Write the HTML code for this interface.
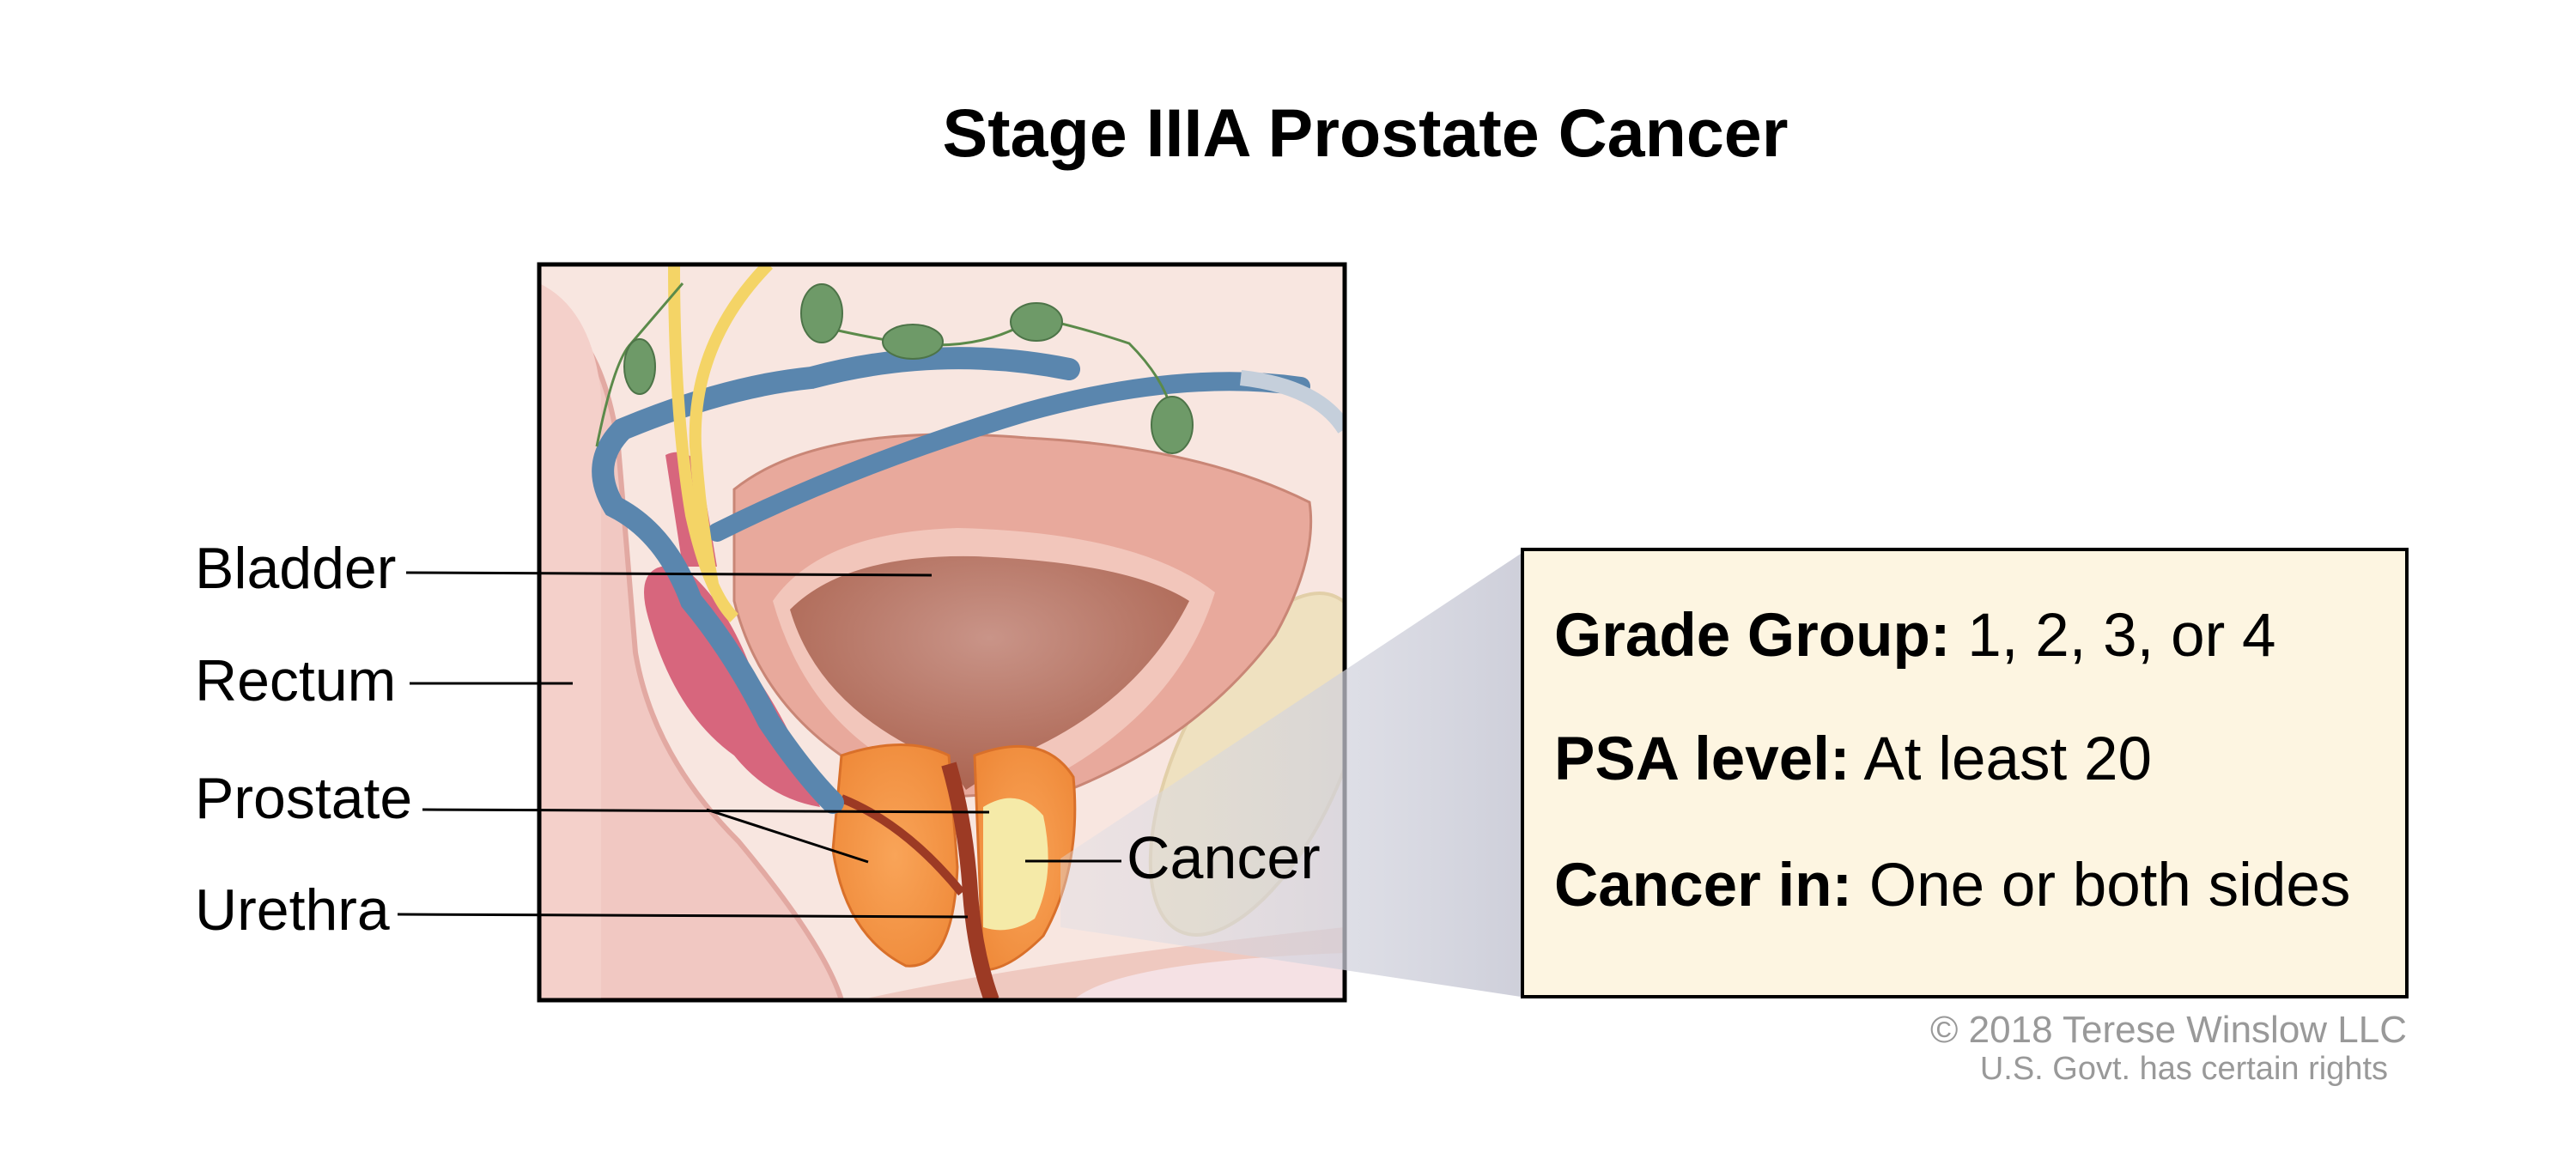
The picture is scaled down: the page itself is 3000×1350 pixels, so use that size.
<!DOCTYPE html>
<html><head><meta charset="utf-8"><style>
html,body{margin:0;padding:0;background:#fff}
body{width:3000px;height:1350px;position:relative;overflow:hidden;font-family:"Liberation Sans",Arial,sans-serif}
.t{position:absolute;white-space:nowrap;color:#000}
</style></head><body>
<svg width="3000" height="1350" viewBox="0 0 3000 1350" style="position:absolute;left:0;top:0">
<defs>
<clipPath id="c"><rect x="628" y="308" width="938" height="857"/></clipPath>
<radialGradient id="bl" cx="0.5" cy="0.35" r="0.7"><stop offset="0" stop-color="#c99488"/><stop offset="1" stop-color="#a9604c"/></radialGradient>
<radialGradient id="pr" cx="0.5" cy="0.5" r="0.6"><stop offset="0" stop-color="#f9a458"/><stop offset="1" stop-color="#ef8a3a"/></radialGradient>
<linearGradient id="wg" x1="0" x2="1"><stop offset="0" stop-color="#dcdde6" stop-opacity="0.4"/><stop offset="1" stop-color="#c9cad6" stop-opacity="0.9"/></linearGradient>
</defs>
<g clip-path="url(#c)">
<rect x="628" y="308" width="938" height="857" fill="#f8e6e0"/>
<path d="M628 360 Q700 380 720 520 L740 760 Q760 880 860 980 Q960 1100 980 1165 L628 1165 Z" fill="#f1c8c2" stroke="#e2a9a2" stroke-width="6"/>
<path d="M628 330 Q690 360 700 460 L700 1165 L628 1165Z" fill="#f4d0ca"/>
<ellipse cx="1465" cy="890" rx="95" ry="215" transform="rotate(25 1465 890)" fill="#efe1c0" stroke="#e2cfa8" stroke-width="4"/>
<path d="M1000 1165 Q1200 1120 1566 1080 L1566 1165Z" fill="#efc9c0"/>
<path d="M1250 1165 Q1300 1120 1566 1110 L1566 1165Z" fill="#f5e1e4"/>
<path d="M855 570 Q955 490 1195 510 Q1395 520 1525 585 Q1535 650 1485 740 Q1395 860 1245 920 L1075 930 Q895 860 855 700 Z" fill="#e8a99c" stroke="#c98676" stroke-width="3"/>
<path d="M900 700 Q955 620 1115 615 Q1325 620 1415 690 Q1375 820 1235 900 L1095 915 Q945 860 900 700Z" fill="#f2c6bb"/>
<path d="M920 710 Q985 645 1135 648 Q1315 655 1385 700 Q1325 820 1185 880 L1125 920 L1105 890 Q955 830 920 710Z" fill="url(#bl)"/>
<path d="M980 880 Q1055 855 1105 880 L1115 1010 Q1110 1130 1055 1125 Q985 1090 970 990 Z" fill="url(#pr)" stroke="#d9702a" stroke-width="3"/>
<path d="M1135 880 Q1215 850 1250 905 Q1260 1010 1215 1090 Q1175 1130 1145 1130 Z" fill="url(#pr)" stroke="#d9702a" stroke-width="3"/>
<path d="M1145 940 Q1185 915 1215 950 Q1230 1020 1205 1070 Q1175 1090 1145 1080 Z" fill="#f5eaa8"/>
<path d="M1105 890 Q1125 960 1130 1040 Q1135 1110 1155 1165" fill="none" stroke="#9c3a24" stroke-width="18"/>
<path d="M980 930 Q1055 960 1120 1040" fill="none" stroke="#9c3a24" stroke-width="10"/>
<path d="M755 720 Q735 650 795 660 Q845 700 875 780 Q925 850 955 940 Q895 930 855 880 Q785 830 755 720Z" fill="#d7667d"/>
<path d="M775 530 Q795 520 815 540 L835 660 L795 660Z" fill="#d7667d"/>
<path d="M1245 430 Q1095 400 945 440 Q845 450 725 500 Q685 540 715 590 Q775 620 805 700 Q855 760 895 840 Q935 900 970 935" fill="none" stroke="#5a86ae" stroke-width="26" stroke-linecap="round"/>
<path d="M1515 450 Q1375 430 1195 480 Q995 540 835 620" fill="none" stroke="#5a86ae" stroke-width="22" stroke-linecap="round"/>
<path d="M1445 440 Q1535 450 1566 500" fill="none" stroke="#c5cfdb" stroke-width="18"/>
<path d="M785 308 Q785 480 805 600 Q825 690 855 720" fill="none" stroke="#f4d466" stroke-width="14"/>
<path d="M895 308 Q805 400 810 520 Q815 600 830 680" fill="none" stroke="#f4d466" stroke-width="14"/>
<path d="M695 520 Q715 420 735 400 L795 330 M955 380 Q995 390 1055 400 Q1145 410 1205 370 Q1255 380 1315 400 Q1355 440 1365 480" fill="none" stroke="#5b8a4a" stroke-width="3"/>
<g fill="#6e9a68" stroke="#4d7448" stroke-width="2">
<ellipse cx="957" cy="365" rx="24" ry="34"/><ellipse cx="1063" cy="398" rx="35" ry="20"/><ellipse cx="1207" cy="375" rx="30" ry="22"/><ellipse cx="745" cy="427" rx="18" ry="32"/><ellipse cx="1365" cy="495" rx="24" ry="33"/>
</g>
</g>
<rect x="628" y="308" width="938" height="857" fill="none" stroke="#000" stroke-width="5"/>
<polygon points="1235,1000 1771,645 1771,1161 1235,1080" fill="url(#wg)"/>
<rect x="1773" y="640" width="1030" height="521" fill="#fdf5e1" stroke="#000" stroke-width="4"/>
<g stroke="#000" stroke-width="3">
<line x1="473" y1="667" x2="1085" y2="670"/>
<line x1="477" y1="796" x2="667" y2="796"/>
<line x1="492" y1="943" x2="1152" y2="946"/>
<line x1="823" y1="943" x2="1011" y2="1004"/>
<line x1="463" y1="1065" x2="1127" y2="1068"/>
<line x1="1194" y1="1003" x2="1306" y2="1003"/>
</g>
</svg>
<div class="t" style="left:0;width:3180px;text-align:center;top:109px;font-size:79px;font-weight:bold">Stage IIIA Prostate Cancer</div>
<div class="t" style="left:227px;top:623px;font-size:68px">Bladder</div>
<div class="t" style="left:227px;top:754px;font-size:68px">Rectum</div>
<div class="t" style="left:227px;top:891px;font-size:68px">Prostate</div>
<div class="t" style="left:227px;top:1021px;font-size:68px">Urethra</div>
<div class="t" style="left:1312px;top:959px;font-size:70px">Cancer</div>
<div class="t" style="left:1810px;top:700px;font-size:71px"><b>Grade Group:</b> 1, 2, 3, or 4</div>
<div class="t" style="left:1810px;top:844px;font-size:71px"><b>PSA level:</b> At least 20</div>
<div class="t" style="left:1810px;top:991px;font-size:71px"><b>Cancer in:</b> One or both sides</div>
<div class="t" style="right:197px;top:1175px;font-size:44px;color:#999">© 2018 Terese Winslow LLC</div>
<div class="t" style="right:219px;top:1224px;font-size:38px;color:#999">U.S. Govt. has certain rights</div>
</body></html>
